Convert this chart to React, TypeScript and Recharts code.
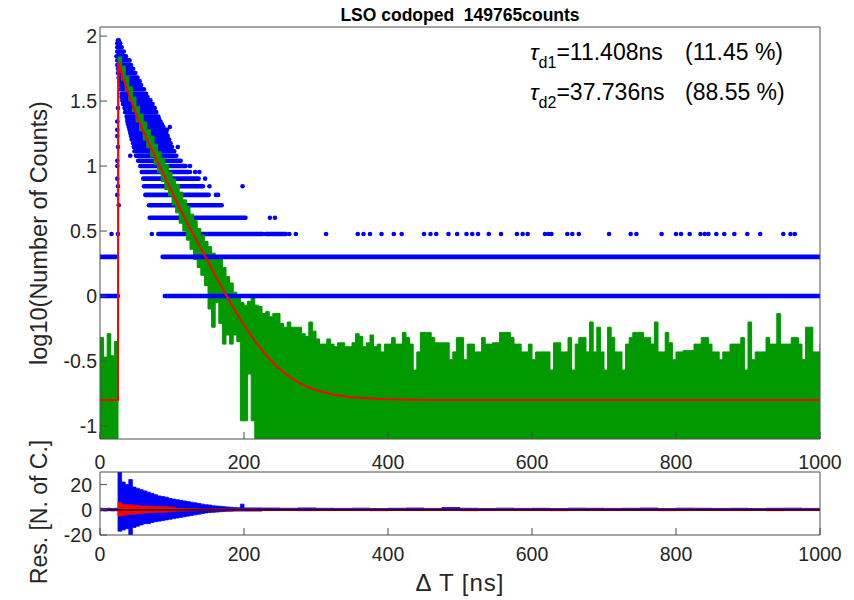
import React from "react";
import {
  ComposedChart,
  Line,
  Area,
  Scatter,
  XAxis,
  YAxis,
  ReferenceLine,
} from "recharts";

const FONT = '"Liberation Sans", Arial, Helvetica, sans-serif';
const INK = "#262626";
const FRAME = "#4d4d4d";
const BLUE = "#0000ff";
const GREEN = "#009900";
const RED = "#ff0000";

const xTicks = [0, 200, 400, 600, 800, 1000];
const mainTicks = [-1, -0.5, 0, 0.5, 1, 1.5, 2];
const resTicks = [-20, 0, 20];

// blue points: runs of bins with the same count (count, first and last delay in ns)
const rowCount = [1, 1, 2, 2, 3, 3, 4, 5, 6, 7, 8, 9, 10, 11, 12, 13, 14, 15, 16, 17, 18, 19, 20, 21, 22, 23, 24, 26, 28, 30, 32, 34, 36, 39, 42, 45, 48, 52, 56, 60, 65, 70, 76, 82, 88, 93];
const rowStart = [0, 90, 0, 87, 81, 230, 69, 68, 63, 61, 60, 58, 56, 53, 50, 48, 47, 46, 44, 43, 42, 41, 40, 39, 38, 38, 37, 35, 34, 32, 31, 30, 30, 29, 28, 27, 26, 25, 25, 24, 24, 23, 24, 24, 24, 25];
const rowEnd = [25, 1000, 22, 1000, 226, 258, 202, 169, 151, 143, 137, 123, 119, 112, 106, 103, 100, 98, 96, 94, 92, 93, 88, 86, 84, 82, 81, 78, 76, 73, 70, 66, 64, 61, 57, 55, 52, 49, 46, 43, 41, 36, 33, 30, 28, 26];

// isolated blue points
const dotCount = [3, 3, 3, 3, 3, 3, 3, 3, 3, 3, 3, 3, 3, 3, 3, 3, 3, 3, 3, 3, 3, 3, 3, 3, 3, 3, 3, 3, 3, 3, 3, 3, 3, 3, 3, 3, 3, 3, 3, 3, 3, 3, 3, 3, 3, 3, 3, 3, 3, 4, 4, 5, 6, 6, 6, 7, 7, 7, 8, 8, 9, 9, 9, 10, 10, 11, 12, 14, 14, 17, 19, 20, 22, 28, 30, 59];
const dotX = [16, 25, 72, 263, 272, 314, 358, 366, 375, 391, 408, 419, 450, 459, 467, 484, 496, 509, 517, 525, 540, 557, 579, 587, 594, 618, 623, 627, 649, 656, 665, 707, 737, 745, 780, 800, 807, 819, 834, 840, 845, 856, 867, 881, 899, 917, 949, 959, 965, 236, 243, 26, 24, 161, 164, 25, 152, 198, 24, 146, 125, 132, 138, 24, 125, 24, 42, 25, 108, 24, 24, 97, 24, 25, 72, 42];

// green trace, 5 ns bins: upper and lower edge of the band
const greenX = [
  0, 5, 10, 15, 20, 25, 30, 35, 40, 45, 50, 55, 60, 65, 70, 75, 80, 85, 90, 95,
  100, 105, 110, 115, 120, 125, 130, 135, 140, 145, 150, 155, 160, 165, 170, 175, 180, 185, 190, 195,
  200, 205, 210, 215, 220, 225, 230, 235, 240, 245, 250, 255, 260, 265, 270, 275, 280, 285, 290, 295,
  300, 305, 310, 315, 320, 325, 330, 335, 340, 345, 350, 355, 360, 365, 370, 375, 380, 385, 390, 395,
  400, 405, 410, 415, 420, 425, 430, 435, 440, 445, 450, 455, 460, 465, 470, 475, 480, 485, 490, 495,
  500, 505, 510, 515, 520, 525, 530, 535, 540, 545, 550, 555, 560, 565, 570, 575, 580, 585, 590, 595,
  600, 605, 610, 615, 620, 625, 630, 635, 640, 645, 650, 655, 660, 665, 670, 675, 680, 685, 690, 695,
  700, 705, 710, 715, 720, 725, 730, 735, 740, 745, 750, 755, 760, 765, 770, 775, 780, 785, 790, 795,
  800, 805, 810, 815, 820, 825, 830, 835, 840, 845, 850, 855, 860, 865, 870, 875, 880, 885, 890, 895,
  900, 905, 910, 915, 920, 925, 930, 935, 940, 945, 950, 955, 960, 965, 970, 975, 980, 985, 990, 995,
  1000,
];
const greenHigh = [
  -0.32, -0.47, -0.29, -0.46, -0.35, 1.84, 1.77, 1.69, 1.61, 1.53, 1.46, 1.4, 1.34, 1.28, 1.23, 1.17, 1.11, 1.06, 1.01, 0.95,
  0.9, 0.86, 0.8, 0.74, 0.69, 0.63, 0.58, 0.52, 0.47, 0.42, 0.38, 0.33, 0.3, 0.3, 0.22, 0.15, 0.1, 0.03, 0.01, -0.05,
  -0.07, -0.04, 0.0, -0.07, -0.08, -0.135, -0.12, -0.16, -0.135, -0.135, -0.21, -0.24, -0.2, -0.24, -0.24, -0.24, -0.29, -0.31, -0.2, -0.27,
  -0.33, -0.37, -0.37, -0.33, -0.37, -0.39, -0.36, -0.36, -0.39, -0.39, -0.36, -0.29, -0.31, -0.39, -0.36, -0.3, -0.39, -0.37, -0.43, -0.37,
  -0.37, -0.32, -0.37, -0.37, -0.28, -0.32, -0.37, -0.57, -0.43, -0.28, -0.28, -0.28, -0.32, -0.36, -0.36, -0.36, -0.36, -0.49, -0.43, -0.32,
  -0.32, -0.49, -0.37, -0.37, -0.43, -0.43, -0.32, -0.37, -0.37, -0.36, -0.36, -0.28, -0.28, -0.28, -0.32, -0.37, -0.37, -0.43, -0.43, -0.37,
  -0.49, -0.43, -0.43, -0.43, -0.43, -0.57, -0.36, -0.36, -0.43, -0.43, -0.32, -0.57, -0.37, -0.32, -0.32, -0.43, -0.2, -0.43, -0.24, -0.43,
  -0.57, -0.24, -0.32, -0.43, -0.43, -0.57, -0.37, -0.32, -0.28, -0.28, -0.28, -0.32, -0.32, -0.37, -0.2, -0.43, -0.43, -0.28, -0.36, -0.49,
  -0.43, -0.43, -0.42, -0.42, -0.42, -0.37, -0.37, -0.32, -0.32, -0.37, -0.43, -0.43, -0.49, -0.43, -0.43, -0.37, -0.37, -0.37, -0.32, -0.57,
  -0.2, -0.49, -0.43, -0.43, -0.43, -0.32, -0.37, -0.37, -0.135, -0.37, -0.37, -0.37, -0.32, -0.32, -0.37, -0.49, -0.24, -0.24, -0.43, -0.43,
  -0.37,
];
const greenLow = [
  -1.1, -1.1, -1.1, -1.1, -1.1, 1.74, 1.66, 1.58, 1.5, 1.42, 1.34, 1.27, 1.2, 1.14, 1.07, 1.01, 0.95, 0.88, 0.82, 0.77,
  0.7, 0.64, 0.56, 0.5, 0.43, 0.36, 0.28, 0.22, 0.16, 0.08, -0.1, -0.24, -0.05, -0.21, -0.37, -0.3, -0.37, -0.3, -0.35, -0.96,
  -0.96, -0.6, -0.96, -1.1, -1.1, -1.1, -1.1, -1.1, -1.1, -1.1, -1.1, -1.1, -1.1, -1.1, -1.1, -1.1, -1.1, -1.1, -1.1, -1.1,
  -1.1, -1.1, -1.1, -1.1, -1.1, -1.1, -1.1, -1.1, -1.1, -1.1, -1.1, -1.1, -1.1, -1.1, -1.1, -1.1, -1.1, -1.1, -1.1, -1.1,
  -1.1, -1.1, -1.1, -1.1, -1.1, -1.1, -1.1, -1.1, -1.1, -1.1, -1.1, -1.1, -1.1, -1.1, -1.1, -1.1, -1.1, -1.1, -1.1, -1.1,
  -1.1, -1.1, -1.1, -1.1, -1.1, -1.1, -1.1, -1.1, -1.1, -1.1, -1.1, -1.1, -1.1, -1.1, -1.1, -1.1, -1.1, -1.1, -1.1, -1.1,
  -1.1, -1.1, -1.1, -1.1, -1.1, -1.1, -1.1, -1.1, -1.1, -1.1, -1.1, -1.1, -1.1, -1.1, -1.1, -1.1, -1.1, -1.1, -1.1, -1.1,
  -1.1, -1.1, -1.1, -1.1, -1.1, -1.1, -1.1, -1.1, -1.1, -1.1, -1.1, -1.1, -1.1, -1.1, -1.1, -1.1, -1.1, -1.1, -1.1, -1.1,
  -1.1, -1.1, -1.1, -1.1, -1.1, -1.1, -1.1, -1.1, -1.1, -1.1, -1.1, -1.1, -1.1, -1.1, -1.1, -1.1, -1.1, -1.1, -1.1, -1.1,
  -1.1, -1.1, -1.1, -1.1, -1.1, -1.1, -1.1, -1.1, -1.1, -1.1, -1.1, -1.1, -1.1, -1.1, -1.1, -1.1, -1.1, -1.1, -1.1, -1.1,
  -1.1,
];

// red fit curve
const fitX = [0, 25, 25.5, 30, 35, 40, 50, 60, 70, 80, 90, 100, 110, 120, 130, 140, 150, 160, 170, 180, 190, 200, 215, 230, 245, 260, 280, 300, 325, 350, 400, 450, 1000];
const fitY = [-0.8, -0.8, 1.8, 1.71, 1.63, 1.55, 1.4, 1.27, 1.15, 1.03, 0.915, 0.8, 0.685, 0.575, 0.47, 0.365, 0.265, 0.16, 0.06, -0.04, -0.135, -0.225, -0.345, -0.45, -0.54, -0.61, -0.68, -0.725, -0.76, -0.78, -0.795, -0.8, -0.8];

// residuals: envelope of the blue and red traces
const resX = [
  0, 5, 10, 15, 20, 25, 30, 35, 40, 45, 50, 55, 60, 65, 70, 75, 80, 85, 90, 95,
  100, 105, 110, 115, 120, 125, 130, 135, 140, 145, 150, 155, 160, 165, 170, 175, 180, 185, 190, 195, 200,
  225, 250, 275, 300, 325, 350, 375, 400, 425, 450, 475, 500, 525, 550, 575, 600,
  625, 650, 675, 700, 725, 750, 775, 800, 825, 850, 875, 900, 925, 950, 975, 1000,
];
const resBlueHigh = [
  1.2, 1.0, 1.3, 1.0, 1.2,
  30, 22, 20, 24, 18, 17, 16, 15, 14, 13, 12, 11, 10.5, 10, 9, 8.5, 8, 7.5, 7, 6.5, 6, 5.5, 5, 4.5, 4, 3.8, 3.2, 3, 2.8, 2.5, 2.2, 2, 1.8, 1.6, 4.5, 1.5,
  1.4, 1.2, 1.5, 1.2, 1.1, 1.3, 1.0, 1.2, 1.4, 1.1, 1.8, 1.2, 1.0, 1.3, 1.1, 1.2, 1.0, 1.3, 1.2, 1.1, 1.2, 1.4, 1.0, 1.3, 1.2, 1.1, 1.2, 1.0, 1.2, 1.3, 1.1, 1.0,
];
const resBlueLow = [
  -0.8, -1.0, -0.7, -0.9, -0.8,
  -17, -16, -15, -20, -14, -13, -12, -11, -11, -10, -9.5, -9, -8.5, -8, -7.5, -7, -6.5, -6, -5.5, -5, -4.5, -4, -3.5, -3, -2.5, -2.2, -2, -1.8, -1.5, -1.3, -1.2, -1.1, -1, -1, -1, -1,
  -0.6, -0.5, -0.7, -0.6, -0.5, -0.6, -0.7, -0.5, -0.6, -0.6, -0.5, -0.7, -0.6, -0.5, -0.6, -0.6, -0.7, -0.5, -0.6, -0.6, -0.5, -0.6, -0.7, -0.6, -0.5, -0.6, -0.6, -0.5, -0.7, -0.6, -0.6, -0.5,
];
const resRedHigh = [
  0.4, 0.4, 0.4, 0.4, 0.4,
  6, 4.5, 4, 4, 3.5, 3.5, 3, 3, 3, 2.8, 2.5, 2.5, 2.5, 2.5, 2.2, 2, 1.2, 1.2, 1, 1, 0.8, 0.8,
  0.6, 0.6, 0.6, 0.6, 0.6, 0.6, 0.6, 0.6, 0.6, 0.6, 0.6, 0.6, 0.6, 0.6,
  0.5, 0.5, 0.5, 0.5, 0.5, 0.5, 0.5, 0.5, 0.5, 0.5, 0.5, 0.5, 0.5, 0.5, 0.5, 0.5, 0.5, 0.5, 0.5, 0.5, 0.5, 0.5, 0.5, 0.5, 0.5, 0.5, 0.5, 0.5, 0.5, 0.5, 0.5, 0.5,
];
const resRedLow = [
  -0.4, -0.4, -0.4, -0.4, -0.4,
  -5, -4.5, -4, -3.5, -3.5, -3, -3, -2.5, -2.5, -2.2, -2, -2, -2, -1.8, -1.6, -1.5, -1, -1, -0.9, -0.9, -0.8, -0.7,
  -0.6, -0.6, -0.6, -0.6, -0.6, -0.6, -0.6, -0.6, -0.6, -0.6, -0.6, -0.6, -0.6, -0.6,
  -0.5, -0.5, -0.5, -0.5, -0.5, -0.5, -0.5, -0.5, -0.5, -0.5, -0.5, -0.5, -0.5, -0.5, -0.5, -0.5, -0.5, -0.5, -0.5, -0.5, -0.5, -0.5, -0.5, -0.5, -0.5, -0.5, -0.5, -0.5, -0.5, -0.5, -0.5, -0.5,
];

const greenData = greenX.map((x, i) => ({ x, band: [greenLow[i], greenHigh[i]] }));
const fitData = fitX.map((x, i) => ({ x, y: fitY[i] }));
const rows = rowCount.map((n, i) => ({
  n,
  long: rowEnd[i] - rowStart[i] > 300,
  data: [
    { x: rowStart[i], y: Math.log10(n) },
    { x: rowEnd[i], y: Math.log10(n) },
  ],
}));
const dots = dotX.map((x, i) => ({ x, y: Math.log10(dotCount[i]) }));
const resData = resX.map((x, i) => ({
  x,
  blue: [resBlueLow[i], resBlueHigh[i]],
  red: [resRedLow[i], resRedHigh[i]],
}));

const tickStyle = { fill: INK, fontSize: 19.5, fontFamily: FONT };

const dotShape = (p: any) => <circle cx={p.cx} cy={p.cy} r={2.3} fill={BLUE} />;

function rowLine(r: any, i: number, z: number) {
  return (
    <Line
      key={"row" + i}
      data={r.data}
      dataKey="y"
      type="linear"
      stroke={BLUE}
      strokeWidth={4.6}
      strokeLinecap="round"
      dot={false}
      activeDot={false}
      isAnimationActive={false}
      zIndex={z}
    />
  );
}

export default function App() {
  return (
    <div
      style={{
        position: "absolute",
        left: 0,
        top: 0,
        width: 854,
        height: 600,
        background: "#fff",
        fontFamily: FONT,
      }}
    >
      <div style={{ position: "absolute", left: 0, top: 0 }}>
        <ComposedChart
          width={854}
          height={482}
          data={greenData}
          margin={{ top: 26, right: 33, bottom: 0, left: 0 }}
        >
          <XAxis
            dataKey="x"
            type="number"
            domain={[0, 1000]}
            ticks={xTicks}
            interval={0}
            allowDataOverflow
            height={43}
            tickSize={-7}
            tickMargin={23}
            stroke={FRAME}
            tick={tickStyle}
          />
          <XAxis
            xAxisId="top"
            orientation="top"
            dataKey="x"
            type="number"
            domain={[0, 1000]}
            ticks={xTicks}
            interval={0}
            allowDataOverflow
            height={1}
            tickSize={-7}
            tick={false}
            stroke={FRAME}
          />
          <YAxis
            type="number"
            domain={[-1.1, 2.07]}
            ticks={mainTicks}
            interval={0}
            allowDataOverflow
            width={100}
            tickSize={-7}
            tickMargin={10}
            stroke={FRAME}
            tick={tickStyle}
          />
          <YAxis
            yAxisId="right"
            orientation="right"
            type="number"
            domain={[-1.1, 2.07]}
            ticks={mainTicks}
            interval={0}
            allowDataOverflow
            width={1}
            tickSize={-7}
            tick={false}
            stroke={FRAME}
          />
          {rows.map((r, i) => (r.long ? null : rowLine(r, i, 50)))}
          <Scatter
            data={dots}
            dataKey="y"
            shape={dotShape}
            isAnimationActive={false}
            zIndex={60}
          />
          <Area
            dataKey="band"
            type="stepAfter"
            stroke={GREEN}
            strokeWidth={1}
            fill={GREEN}
            fillOpacity={1}
            dot={false}
            activeDot={false}
            isAnimationActive={false}
            zIndex={100}
          />
          {rows.map((r, i) => (r.long ? rowLine(r, i, 150) : null))}
          <Line
            data={fitData}
            dataKey="y"
            type="linear"
            stroke={RED}
            strokeWidth={2}
            dot={false}
            activeDot={false}
            isAnimationActive={false}
            zIndex={200}
          />
        </ComposedChart>
      </div>

      <div style={{ position: "absolute", left: 0, top: 440 }}>
        <ComposedChart
          width={854}
          height={160}
          data={resData}
          margin={{ top: 31, right: 33, bottom: 0, left: 0 }}
        >
          <XAxis
            dataKey="x"
            type="number"
            domain={[0, 1000]}
            ticks={xTicks}
            interval={0}
            allowDataOverflow
            height={65}
            tickSize={-7}
            tickMargin={19}
            stroke={FRAME}
            tick={tickStyle}
          />
          <XAxis
            xAxisId="top"
            orientation="top"
            dataKey="x"
            type="number"
            domain={[0, 1000]}
            ticks={xTicks}
            interval={0}
            allowDataOverflow
            height={1}
            tickSize={-7}
            tick={false}
            stroke={FRAME}
          />
          <YAxis
            type="number"
            domain={[-20, 30]}
            ticks={resTicks}
            interval={0}
            allowDataOverflow
            width={100}
            tickSize={-7}
            tickMargin={15}
            stroke={FRAME}
            tick={tickStyle}
          />
          <YAxis
            yAxisId="right"
            orientation="right"
            type="number"
            domain={[-20, 30]}
            ticks={resTicks}
            interval={0}
            allowDataOverflow
            width={1}
            tickSize={-7}
            tick={false}
            stroke={FRAME}
          />
          <Area
            dataKey="blue"
            type="stepAfter"
            stroke={BLUE}
            strokeWidth={0.8}
            fill={BLUE}
            fillOpacity={1}
            dot={false}
            activeDot={false}
            isAnimationActive={false}
            zIndex={100}
          />
          <Area
            dataKey="red"
            type="stepAfter"
            stroke={RED}
            strokeWidth={0.8}
            fill={RED}
            fillOpacity={1}
            dot={false}
            activeDot={false}
            isAnimationActive={false}
            zIndex={150}
          />
          <ReferenceLine y={0} stroke="#000" strokeWidth={1.2} zIndex={200} />
        </ComposedChart>
      </div>

      <svg
        width={854}
        height={600}
        style={{ position: "absolute", left: 0, top: 0, pointerEvents: "none" }}
        fontFamily={FONT}
      >
        <text
          x={460}
          y={20.5}
          textAnchor="middle"
          fontWeight="bold"
          fontSize={17.5}
          fill="#000"
          style={{ whiteSpace: "pre" }}
        >
          LSO codoped  149765counts
        </text>
        <text x={530} y={60} fontSize={23} fill="#000">
          <tspan fontStyle="italic">τ</tspan>
          <tspan fontSize={16} dy={8}>d1</tspan>
          <tspan dy={-8}>=11.408ns</tspan>
        </text>
        <text x={685} y={60} fontSize={23} fill="#000">
          (11.45 %)
        </text>
        <text x={530} y={100} fontSize={23} fill="#000">
          <tspan fontStyle="italic">τ</tspan>
          <tspan fontSize={16} dy={8}>d2</tspan>
          <tspan dy={-8}>=37.736ns</tspan>
        </text>
        <text x={685} y={100} fontSize={23} fill="#000">
          (88.55 %)
        </text>
        <text
          transform="translate(47,233) rotate(-90)"
          textAnchor="middle"
          fontSize={23.5}
          fill={INK}
        >
          log10(Number of Counts)
        </text>
        <text
          transform="translate(47,512) rotate(-90)"
          textAnchor="middle"
          fontSize={23}
          fill={INK}
        >
          Res. [N. of C.]
        </text>
        <text
          x={460}
          y={591}
          textAnchor="middle"
          fontSize={24}
          letterSpacing={1}
          fill={INK}
        >
          Δ T [ns]
        </text>
      </svg>
    </div>
  );
}
